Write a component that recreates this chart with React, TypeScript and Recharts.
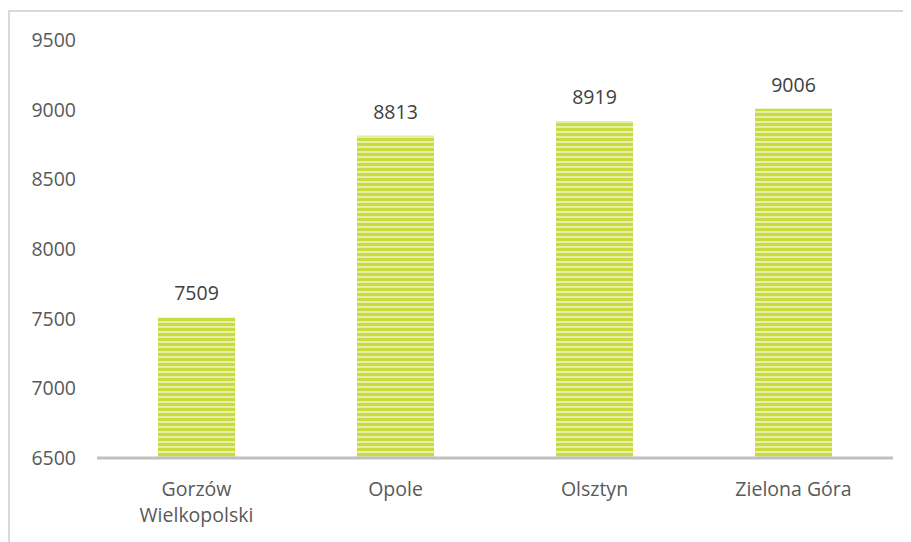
import React from "react";
import { BarChart, Bar, XAxis, YAxis, LabelList } from "recharts";

const categories = ["Gorzów\nWielkopolski", "Opole", "Olsztyn", "Zielona Góra"];
const values = [7509, 8813, 8919, 9006];
const yTicks = [6500, 7000, 7500, 8000, 8500, 9000, 9500];

const data = categories.map((c, i) => ({ name: c, value: values[i] }));

const font = "'Open Sans', 'Noto Sans', sans-serif";
const fs = 19.5;

const XTick = (props: any) => {
  const { x, y, payload } = props;
  const lines = String(payload.value).split("\n");
  return (
    <g>
      {lines.map((l, i) => (
        <text
          key={i}
          x={x}
          y={y + 30 + i * 26}
          textAnchor="middle"
          fill="#595959"
          fontSize={fs}
          fontFamily={font}
        >
          {l}
        </text>
      ))}
    </g>
  );
};

export default function App() {
  return (
    <div style={{ position: "relative", width: 903, height: 534, fontFamily: font }}>
      <div
        style={{
          position: "absolute",
          left: 0,
          top: 2,
          width: 903,
          height: 532,
          borderTop: "2px solid #d9d9d9",
          borderLeft: "2px solid #d9d9d9",
          boxSizing: "border-box",
        }}
      />
      <BarChart
        width={903}
        height={534}
        data={data}
        margin={{ top: 32, right: 18, bottom: 0, left: 0 }}
      >
        <defs>
          <pattern id="stripes" width="6" height="5" patternUnits="userSpaceOnUse">
            <rect x="0" y="0" width="6" height="5" fill="#c9db3e" />
            <rect x="0" y="3" width="6" height="2" fill="#e6efa6" />
          </pattern>
        </defs>
        <YAxis
          domain={[6500, 9500]}
          ticks={yTicks}
          width={89}
          axisLine={false}
          tickLine={false}
          tickMargin={15}
          tick={{ fill: "#595959", fontSize: fs, fontFamily: font }}
        />
        <XAxis
          dataKey="name"
          height={84}
          tickLine={false}
          axisLine={{ stroke: "#bfbfbf", strokeWidth: 3 }}
          tick={<XTick />}
          interval={0}
        />
        <Bar dataKey="value" fill="url(#stripes)" barSize={77} isAnimationActive={false}>
          <LabelList
            dataKey="value"
            position="top"
            offset={17}
            fill="#404040"
            fontSize={fs}
            fontFamily={font}
          />
        </Bar>
      </BarChart>
    </div>
  );
}
